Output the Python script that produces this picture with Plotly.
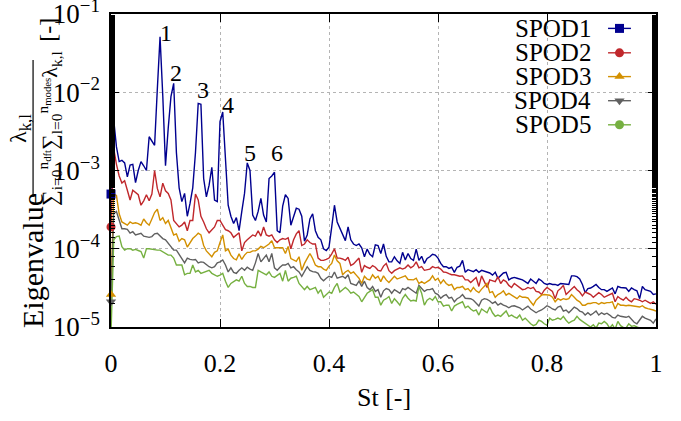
import plotly.graph_objects as go
import numpy as np

# ---------------- data ----------------
# Strouhal-number bins (uniform frequency grid, step 0.005)
st = [round(0.005 * i, 3) for i in range(201)]

spod1 = [5.0e-4, 4.4e-3, 2.0e-3, 1.3e-3, 1.35e-3, 1.25e-3, 8.3e-4, 1.17e-3, 1.2e-3, 7.0e-4,
         1.0e-3, 1.3e-3, 1.15e-3, 1.0e-3, 2.7e-3, 2.4e-3, 2.1e-3, 1.1e-2, 5.1e-2, 9.0e-3,
         1.15e-3, 3.5e-3, 8.8e-3, 1.3e-2, 1.7e-3, 6.0e-4, 4.0e-4, 5.1e-4, 2.6e-4, 3.8e-4,
         6.0e-4, 1.7e-3, 7.2e-3, 7.0e-3, 7.9e-4, 4.6e-4, 6.5e-4, 1.1e-3, 4.2e-4, 4.0e-4,
         4.2e-3, 5.6e-3, 1.2e-3, 3.6e-4, 2.6e-4, 2.1e-4, 2.5e-4, 1.7e-4, 3.0e-4, 5.1e-4,
         1.25e-3, 1.0e-3, 2.7e-4, 2.3e-4, 3.0e-4, 4.4e-4, 2.7e-4, 2.2e-4, 7.9e-4, 8.5e-4,
         9.5e-4, 1.7e-4, 1.6e-4, 3.5e-4, 4.9e-4, 4.4e-4, 2.0e-4, 2.5e-4, 3.3e-4, 3.2e-4,
         2.6e-4, 1.25e-4, 1.5e-4, 2.4e-4, 2.8e-4, 1.7e-4, 1.4e-4, 1.3e-4, 1.0e-4, 9.5e-5,
         1.05e-4, 1.9e-4, 3.6e-4, 2.2e-4, 1.8e-4, 1.5e-4, 1.27e-4, 1.9e-4, 1.3e-4, 1.15e-4,
         1.1e-4, 1.15e-4, 1.03e-4, 7.9e-5, 9.9e-5, 8.5e-5, 7.9e-5, 1.12e-4, 1.1e-4, 8.7e-5,
         1.15e-4, 8.0e-5, 6.8e-5, 6.8e-5, 7.9e-5, 7.0e-5, 6.5e-5, 9.0e-5, 7.2e-5, 8.7e-5,
         7.5e-5, 7.1e-5, 9.9e-5, 7.1e-5, 8.0e-5, 6.5e-5, 7.5e-5, 7.9e-5, 8.5e-5, 8.3e-5,
         7.6e-5, 6.5e-5, 5.9e-5, 5.9e-5, 5.6e-5, 5.8e-5, 5.0e-5, 5.8e-5, 6.0e-5, 7.1e-5,
         5.0e-5, 5.4e-5, 5.2e-5, 5.1e-5, 5.4e-5, 5.0e-5, 5.3e-5, 5.2e-5, 5.0e-5, 4.9e-5,
         4.6e-5, 5.0e-5, 4.2e-5, 4.6e-5, 4.9e-5, 5.0e-5, 4.0e-5, 4.2e-5, 4.3e-5, 4.2e-5,
         4.1e-5, 4.0e-5, 3.8e-5, 3.6e-5, 4.1e-5, 3.8e-5, 3.6e-5, 4.1e-5, 3.9e-5, 3.6e-5,
         3.5e-5, 3.6e-5, 3.5e-5, 3.5e-5, 3.4e-5, 3.6e-5, 3.55e-5, 3.5e-5, 3.5e-5, 4.5e-5,
         4.5e-5, 4.4e-5, 4.1e-5, 3.5e-5, 2.75e-5, 3.1e-5, 3.15e-5, 3.3e-5, 3.5e-5, 3.2e-5,
         3.0e-5, 3.0e-5, 2.85e-5, 3.0e-5, 3.15e-5, 2.65e-5, 3.3e-5, 3.2e-5, 3.15e-5, 3.15e-5,
         2.85e-5, 3.15e-5, 3.0e-5, 2.9e-5, 2.3e-5, 3.3e-5, 3.0e-5, 2.9e-5, 2.85e-5, 2.6e-5,
         2.65e-5]

spod2 = [1.9e-4, 1.9e-3, 1.2e-3, 8.5e-4, 6.9e-4, 7.4e-4, 5.6e-4, 4.2e-4, 5.6e-4, 5.2e-4,
         4.9e-4, 3.6e-4, 4.1e-4, 4.9e-4, 4.1e-4, 5.0e-4, 1.0e-3, 5.9e-4, 4.6e-4, 6.9e-4,
         5.5e-4, 5.1e-4, 4.2e-4, 2.3e-4, 2.1e-4, 1.9e-4, 2.0e-4, 2.2e-4, 1.7e-4, 2.3e-4,
         2.3e-4, 5.0e-4, 4.2e-4, 2.6e-4, 2.2e-4, 1.8e-4, 1.6e-4, 1.75e-4, 1.9e-4, 2.3e-4,
         2.3e-4, 2.0e-4, 1.75e-4, 1.7e-4, 1.6e-4, 1.4e-4, 1.5e-4, 1.6e-4, 9.4e-5, 1.2e-4,
         1.3e-4, 1.4e-4, 1.5e-4, 1.45e-4, 1.7e-4, 1.45e-4, 1.9e-4, 1.5e-4, 1.45e-4, 1.5e-4,
         1.3e-4, 1.2e-4, 1.3e-4, 1.35e-4, 1.32e-4, 1.38e-4, 1.0e-4, 1.3e-4, 1.55e-4, 1.7e-4,
         1.1e-4, 1.15e-4, 1.3e-4, 1.2e-4, 1.15e-4, 1.15e-4, 7.6e-5, 7.1e-5, 7.1e-5, 7.3e-5,
         7.6e-5, 8.6e-5, 1.0e-4, 7.6e-5, 7.6e-5, 7.4e-5, 7.1e-5, 7.8e-5, 6.1e-5, 6.4e-5,
         7.0e-5, 7.6e-5, 5.0e-5, 6.1e-5, 5.8e-5, 5.6e-5, 6.1e-5, 5.8e-5, 5.3e-5, 5.2e-5,
         6.0e-5, 6.5e-5, 5.25e-5, 4.85e-5, 5.25e-5, 5.5e-5, 5.7e-5, 5.5e-5, 5.7e-5, 6.2e-5,
         5.7e-5, 6.0e-5, 6.8e-5, 5.7e-5, 5.9e-5, 5.3e-5, 5.4e-5, 5.5e-5, 5.9e-5, 5.7e-5,
         5.8e-5, 5.5e-5, 5.05e-5, 5.0e-5, 4.8e-5, 4.65e-5, 4.65e-5, 4.5e-5, 4.45e-5, 4.5e-5,
         4.0e-5, 4.0e-5, 3.7e-5, 4.0e-5, 4.3e-5, 3.3e-5, 4.5e-5, 3.8e-5, 3.2e-5, 4.0e-5,
         3.9e-5, 3.8e-5, 4.4e-5, 3.6e-5, 4.0e-5, 3.8e-5, 3.4e-5, 3.2e-5, 3.6e-5, 3.4e-5,
         3.2e-5, 3.0e-5, 3.05e-5, 3.2e-5, 3.1e-5, 3.2e-5, 2.85e-5, 2.8e-5, 2.6e-5, 2.95e-5,
         3.2e-5, 3.05e-5, 2.85e-5, 2.3e-5, 2.9e-5, 3.1e-5, 3.4e-5, 2.6e-5, 2.8e-5, 3.1e-5,
         3.3e-5, 3.0e-5, 2.8e-5, 2.5e-5, 2.8e-5, 2.7e-5, 2.6e-5, 2.4e-5, 2.6e-5, 2.75e-5,
         2.6e-5, 2.4e-5, 2.5e-5, 2.6e-5, 2.7e-5, 2.1e-5, 2.45e-5, 2.3e-5, 2.2e-5, 2.4e-5,
         2.2e-5, 2.1e-5, 2.3e-5, 2.25e-5, 2.2e-5, 2.1e-5, 2.2e-5, 2.1e-5, 2.0e-5, 2.1e-5,
         1.95e-5]

spod3 = [2.6e-5, 5.0e-4, 4.8e-4, 2.8e-4, 2.2e-4, 2.1e-4, 2.0e-4, 2.2e-4, 2.1e-4, 2.15e-4,
         2.1e-4, 2.0e-4, 2.4e-4, 2.15e-4, 2.0e-4, 2.4e-4, 2.9e-4, 3.2e-4, 2.3e-4, 2.5e-4,
         2.1e-4, 2.3e-4, 1.9e-4, 1.5e-4, 1.55e-4, 1.25e-4, 1.35e-4, 1.3e-4, 1.05e-4, 1.2e-4,
         1.35e-4, 1.45e-4, 1.58e-4, 1.5e-4, 1.1e-4, 9.4e-5, 8.6e-5, 7.9e-5, 9.0e-5, 9.4e-5,
         1.2e-4, 1.5e-4, 9.4e-5, 9.9e-5, 8.3e-5, 7.5e-5, 7.2e-5, 8.6e-5, 7.3e-5, 8.3e-5,
         9.0e-5, 9.0e-5, 9.4e-5, 9.4e-5, 9.9e-5, 1.07e-4, 1.03e-4, 1.1e-4, 1.15e-4, 1.27e-4,
         1.03e-4, 1.03e-4, 1.03e-4, 1.03e-4, 8.7e-5, 1.07e-4, 7.5e-5, 7.2e-5, 6.9e-5, 7.9e-5,
         5.3e-5, 6.5e-5, 7.5e-5, 8.7e-5, 7.5e-5, 6.2e-5, 5.9e-5, 5.9e-5, 5.5e-5, 5.3e-5,
         6.0e-5, 6.5e-5, 8.3e-5, 7.0e-5, 6.5e-5, 4.65e-5, 5.05e-5, 5.3e-5, 4.85e-5, 5.05e-5,
         4.6e-5, 4.2e-5, 3.6e-5, 4.45e-5, 4.1e-5, 4.0e-5, 4.65e-5, 4.2e-5, 4.45e-5, 3.8e-5,
         4.5e-5, 4.0e-5, 3.7e-5, 4.0e-5, 4.45e-5, 4.1e-5, 4.2e-5, 4.3e-5, 4.5e-5, 4.05e-5,
         4.0e-5, 4.0e-5, 4.2e-5, 3.6e-5, 3.8e-5, 3.6e-5, 3.8e-5, 4.0e-5, 4.5e-5, 3.95e-5,
         4.2e-5, 3.6e-5, 4.0e-5, 3.6e-5, 3.4e-5, 3.5e-5, 3.0e-5, 3.2e-5, 3.2e-5, 3.3e-5,
         3.0e-5, 3.1e-5, 2.83e-5, 3.2e-5, 2.9e-5, 2.75e-5, 3.05e-5, 3.3e-5, 3.6e-5, 2.75e-5,
         2.83e-5, 2.4e-5, 2.6e-5, 2.7e-5, 2.9e-5, 2.55e-5, 2.7e-5, 2.55e-5, 2.45e-5, 2.3e-5,
         2.5e-5, 2.4e-5, 2.4e-5, 2.35e-5, 2.1e-5, 1.9e-5, 2.2e-5, 2.4e-5, 2.55e-5, 2.6e-5,
         2.55e-5, 2.55e-5, 2.4e-5, 2.1e-5, 2.3e-5, 2.2e-5, 2.3e-5, 2.25e-5, 2.3e-5, 2.6e-5,
         2.4e-5, 2.2e-5, 2.1e-5, 1.9e-5, 1.9e-5, 2.0e-5, 2.0e-5, 2.05e-5, 2.05e-5, 1.95e-5,
         2.05e-5, 2.0e-5, 2.05e-5, 2.05e-5, 2.1e-5, 1.7e-5, 2.0e-5, 1.9e-5, 1.9e-5, 1.87e-5,
         1.9e-5, 1.87e-5, 1.85e-5, 1.8e-5, 1.8e-5, 1.87e-5, 1.76e-5, 1.72e-5, 1.7e-5, 1.65e-5,
         1.6e-5]

spod4 = [2.1e-5, 2.8e-4, 3.0e-4, 2.3e-4, 1.8e-4, 1.8e-4, 1.77e-4, 1.58e-4, 1.65e-4, 1.5e-4,
         1.55e-4, 1.58e-4, 1.45e-4, 1.43e-4, 1.4e-4, 1.43e-4, 1.55e-4, 1.58e-4, 1.45e-4, 1.35e-4,
         1.3e-4, 1.18e-4, 1.06e-4, 9.6e-5, 9.6e-5, 8.5e-5, 7.6e-5, 6.6e-5, 7.6e-5, 7.3e-5,
         7.2e-5, 7.3e-5, 6.6e-5, 6.8e-5, 6.7e-5, 6.2e-5, 5.9e-5, 5.7e-5, 5.9e-5, 6.6e-5,
         6.8e-5, 7.2e-5, 6.2e-5, 5.05e-5, 5.7e-5, 5.0e-5, 4.85e-5, 5.3e-5, 5.7e-5, 5.3e-5,
         5.8e-5, 5.5e-5, 5.3e-5, 6.6e-5, 8.7e-5, 6.8e-5, 7.5e-5, 8.3e-5, 6.8e-5, 8.7e-5,
         5.7e-5, 5.3e-5, 5.8e-5, 6.2e-5, 6.2e-5, 6.5e-5, 5.7e-5, 5.9e-5, 5.4e-5, 5.05e-5,
         4.45e-5, 5.05e-5, 5.9e-5, 5.3e-5, 5.1e-5, 5.05e-5, 4.85e-5, 4.2e-5, 3.9e-5, 4.2e-5,
         4.45e-5, 4.3e-5, 5.05e-5, 4.2e-5, 4.3e-5, 4.45e-5, 4.2e-5, 4.65e-5, 3.6e-5, 3.5e-5,
         3.4e-5, 3.85e-5, 3.3e-5, 3.85e-5, 3.2e-5, 3.0e-5, 3.3e-5, 2.85e-5, 3.0e-5, 2.4e-5,
         2.9e-5, 3.1e-5, 3.0e-5, 2.7e-5, 3.0e-5, 2.85e-5, 2.7e-5, 3.1e-5, 3.0e-5, 3.2e-5,
         3.0e-5, 2.85e-5, 2.7e-5, 3.4e-5, 3.1e-5, 2.85e-5, 3.0e-5, 3.0e-5, 3.1e-5, 2.7e-5,
         2.6e-5, 2.33e-5, 2.5e-5, 2.6e-5, 2.33e-5, 2.4e-5, 2.1e-5, 2.3e-5, 2.4e-5, 2.6e-5,
         2.33e-5, 2.3e-5, 2.3e-5, 2.2e-5, 2.0e-5, 1.85e-5, 2.2e-5, 2.3e-5, 2.25e-5, 2.15e-5,
         2.0e-5, 2.1e-5, 1.9e-5, 2.0e-5, 1.9e-5, 1.85e-5, 1.76e-5, 1.85e-5, 1.87e-5, 1.8e-5,
         1.76e-5, 1.65e-5, 1.76e-5, 1.85e-5, 1.7e-5, 1.6e-5, 1.52e-5, 1.6e-5, 1.65e-5, 1.75e-5,
         1.87e-5, 1.8e-5, 1.7e-5, 1.65e-5, 1.8e-5, 1.85e-5, 1.6e-5, 1.65e-5, 1.52e-5, 1.65e-5,
         1.8e-5, 1.72e-5, 1.6e-5, 1.55e-5, 1.42e-5, 1.52e-5, 1.42e-5, 1.5e-5, 1.6e-5, 1.42e-5,
         1.52e-5, 1.45e-5, 1.5e-5, 1.42e-5, 1.33e-5, 1.3e-5, 1.42e-5, 1.37e-5, 1.35e-5, 1.33e-5,
         1.37e-5, 1.27e-5, 1.15e-5, 1.1e-5, 1.22e-5, 1.37e-5, 1.3e-5, 1.25e-5, 1.22e-5, 1.12e-5,
         1.27e-5]

spod5 = [8.0e-6, 1.3e-4, 1.43e-4, 1.45e-4, 1.06e-4, 9.6e-5, 1.0e-4, 1.0e-4, 9.6e-5, 9.8e-5,
         9.5e-5, 9.2e-5, 7.6e-5, 1.0e-4, 1.0e-4, 9.8e-5, 9.6e-5, 9.6e-5, 9.6e-5, 9.2e-5,
         8.7e-5, 8.3e-5, 8.3e-5, 7.6e-5, 6.2e-5, 6.2e-5, 6.2e-5, 4.65e-5, 4.85e-5, 4.85e-5,
         6.2e-5, 5.05e-5, 5.3e-5, 4.85e-5, 5.0e-5, 5.05e-5, 5.3e-5, 4.85e-5, 4.65e-5, 4.45e-5,
         4.6e-5, 4.85e-5, 3.85e-5, 3.2e-5, 3.6e-5, 3.8e-5, 4.0e-5, 3.85e-5, 4.45e-5, 3.6e-5,
         3.3e-5, 3.3e-5, 3.2e-5, 3.2e-5, 5.3e-5, 5.05e-5, 4.8e-5, 4.65e-5, 5.05e-5, 4.45e-5,
         4.3e-5, 4.6e-5, 4.85e-5, 3.85e-5, 5.3e-5, 3.85e-5, 4.2e-5, 4.3e-5, 4.45e-5, 3.6e-5,
         3.3e-5, 3.0e-5, 3.3e-5, 3.0e-5, 3.1e-5, 3.2e-5, 2.7e-5, 3.0e-5, 2.4e-5, 2.6e-5,
         2.8e-5, 2.7e-5, 3.2e-5, 3.6e-5, 2.8e-5, 3.0e-5, 3.2e-5, 3.0e-5, 2.7e-5, 2.8e-5,
         2.6e-5, 2.45e-5, 2.1e-5, 2.4e-5, 2.7e-5, 2.85e-5, 3.0e-5, 2.4e-5, 2.4e-5, 1.9e-5,
         2.2e-5, 2.3e-5, 2.45e-5, 2.0e-5, 2.3e-5, 2.1e-5, 1.9e-5, 2.33e-5, 2.6e-5, 2.33e-5,
         2.15e-5, 2.2e-5, 2.15e-5, 3.3e-5, 2.7e-5, 1.9e-5, 2.2e-5, 2.33e-5, 2.2e-5, 2.45e-5,
         2.1e-5, 2.1e-5, 1.85e-5, 1.9e-5, 1.9e-5, 1.6e-5, 1.85e-5, 1.95e-5, 2.05e-5, 2.1e-5,
         1.76e-5, 1.85e-5, 1.7e-5, 1.6e-5, 1.65e-5, 1.42e-5, 1.7e-5, 1.6e-5, 1.52e-5, 1.8e-5,
         1.52e-5, 1.37e-5, 1.42e-5, 1.37e-5, 1.5e-5, 1.6e-5, 1.37e-5, 1.42e-5, 1.35e-5, 1.3e-5,
         1.42e-5, 1.22e-5, 1.3e-5, 1.18e-5, 1.1e-5, 1.04e-5, 1.08e-5, 1.22e-5, 1.18e-5, 1.1e-5,
         1.05e-5, 1.3e-5, 1.22e-5, 1.25e-5, 1.3e-5, 1.25e-5, 1.37e-5, 1.22e-5, 1.12e-5, 1.18e-5,
         1.22e-5, 1.37e-5, 1.25e-5, 1.18e-5, 1.12e-5, 1.05e-5, 1.0e-5, 1.07e-5, 9.7e-6, 1.12e-5,
         1.1e-5, 1.18e-5, 1.1e-5, 9.7e-6, 1.07e-5, 9.4e-6, 1.18e-5, 1.04e-5, 9.9e-6, 9.7e-6,
         1.1e-5, 1.02e-5, 1.04e-5, 1.0e-5, 9.7e-6, 9.0e-6, 8.5e-6, 8.8e-6, 8.2e-6, 8.5e-6,
         8.0e-6]

series_names = ["SPOD1", "SPOD2", "SPOD3", "SPOD4", "SPOD5"]
series_values = [spod1, spod2, spod3, spod4, spod5]

# peak annotations
peak_labels = ["1", "2", "3", "4", "5", "6"]
peak_st = [0.100, 0.120, 0.169, 0.215, 0.255, 0.304]
peak_val = [5.7e-2, 1.76e-2, 1.07e-2, 6.9e-3, 1.67e-3, 1.67e-3]

x_ticks = [0, 0.2, 0.4, 0.6, 0.8, 1]
x_ticktext = ["0", "0.2", "0.4", "0.6", "0.8", "1"]
y_ticks = [1e-5, 1e-4, 1e-3, 1e-2, 1e-1]
y_ticktext = ["10<sup>−5</sup>", "10<sup>−4</sup>", "10<sup>−3</sup>", "10<sup>−2</sup>", "10<sup>−1</sup>"]

# ---------------- style ----------------
FONT = "Liberation Serif"
colors = ["#00008f", "#c0282c", "#d39000", "#606060", "#76b041"]
symbols = ["square", "circle", "triangle-up", "triangle-down", "circle"]

fig = go.Figure()

for name, vals, col, sym in zip(series_names, series_values, colors, symbols):
    fig.add_trace(go.Scatter(x=st, y=vals, mode="lines", name=name,
                             line=dict(color=col, width=1.4), showlegend=False))
for name, vals, col, sym in zip(series_names, series_values, colors, symbols):
    fig.add_trace(go.Scatter(x=[st[0]], y=[vals[0]], mode="markers",
                             marker=dict(symbol=sym, size=9, color=col),
                             cliponaxis=(name == "SPOD5"), showlegend=False))

# custom legend (text left, sample right) on an overlay axis in [0,1]
leg_rows = [0.954, 0.876, 0.800, 0.723, 0.646]
for name, col, sym, yy in zip(series_names, colors, symbols, leg_rows):
    fig.add_trace(go.Scatter(x=[0.912, 0.954], y=[yy, yy], mode="lines",
                             line=dict(color=col, width=1.4), xaxis="x2", yaxis="y2",
                             showlegend=False, hoverinfo="skip"))
    fig.add_trace(go.Scatter(x=[0.933], y=[yy], mode="markers",
                             marker=dict(symbol=sym, size=9, color=col), xaxis="x2", yaxis="y2",
                             showlegend=False, hoverinfo="skip", cliponaxis=False))

annotations = []
for name, yy in zip(series_names, leg_rows):
    annotations.append(dict(text=name, x=0.885, y=yy, xref="paper", yref="paper",
                            xanchor="right", yanchor="middle", showarrow=False,
                            font=dict(family=FONT, size=25, color="black")))
for lab, xs, yv in zip(peak_labels, peak_st, peak_val):
    annotations.append(dict(text=lab, x=xs, y=np.log10(yv), xref="x", yref="y",
                            xanchor="center", yanchor="middle", showarrow=False,
                            font=dict(family=FONT, size=24, color="black")))

# axis titles
annotations.append(dict(text="St [-]", x=0.5, y=-0.225, xref="paper", yref="paper",
                        xanchor="center", yanchor="middle", showarrow=False,
                        font=dict(family=FONT, size=26, color="black")))
annotations.append(dict(text="Eigenvalue", x=-0.145, y=0.214, xref="paper", yref="paper",
                        textangle=-90, xanchor="center", yanchor="middle", showarrow=False,
                        font=dict(family=FONT, size=30, color="black")))
annotations.append(dict(text="λ<sub>k,l</sub>", x=-0.167, y=0.636, xref="paper", yref="paper",
                        textangle=-90, xanchor="center", yanchor="middle", showarrow=False,
                        font=dict(family=FONT, size=24, color="black")))
annotations.append(dict(text="∑<sub>i=0</sub><sup>n<sub>dft</sub></sup>∑<sub>l=0</sub><sup>n<sub>modes</sub></sup>λ<sub>k,l</sub>",
                        x=-0.112, y=0.636, xref="paper", yref="paper",
                        textangle=-90, xanchor="center", yanchor="middle", showarrow=False,
                        font=dict(family=FONT, size=22, color="black")))
annotations.append(dict(text="[-]", x=-0.116, y=0.949, xref="paper", yref="paper",
                        textangle=-90, xanchor="center", yanchor="middle", showarrow=False,
                        font=dict(family=FONT, size=24, color="black")))

shapes = [dict(type="line", xref="paper", yref="paper", x0=-0.143, x1=-0.143,
               y0=0.415, y1=0.853, line=dict(color="black", width=1.2))]

axis_common = dict(showline=True, linecolor="black", linewidth=1.5, mirror="ticks",
                   ticks="inside", ticklen=8, tickcolor="black", tickwidth=1,
                   showgrid=True, gridcolor="#b4b4b4", griddash="dot", gridwidth=1,
                   zeroline=False, automargin=False)

fig.update_layout(
    width=681, height=421,
    margin=dict(l=111, r=25, t=14, b=94),
    paper_bgcolor="white", plot_bgcolor="white",
    showlegend=False,
    xaxis=dict(range=[0, 1], tickvals=x_ticks, ticktext=x_ticktext,
               ticklabelstandoff=12, tickfont=dict(family=FONT, size=26, color="black"),
               **axis_common),
    yaxis=dict(type="log", range=[-5, -1], tickvals=y_ticks, ticktext=y_ticktext,
               ticklabelstandoff=4, tickfont=dict(family=FONT, size=27, color="black"),
               ticklabeloverflow="allow",
               minor=dict(ticks="inside", ticklen=4, tickcolor="black", showgrid=False),
               **axis_common),
    xaxis2=dict(overlaying="x", range=[0, 1], visible=False, fixedrange=True),
    yaxis2=dict(overlaying="y", range=[0, 1], visible=False, fixedrange=True),
    annotations=annotations,
    shapes=shapes,
    font=dict(family=FONT, color="black"),
)

fig.write_html("out.html")
